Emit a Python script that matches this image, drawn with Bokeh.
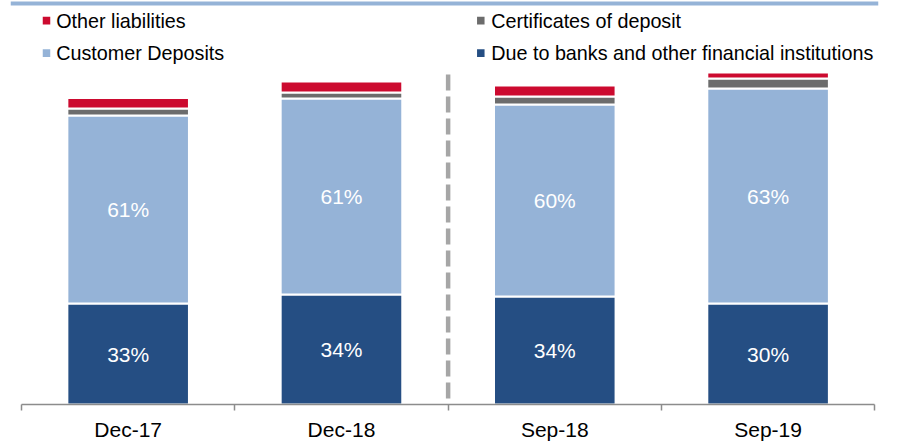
import numpy as np
from bokeh.plotting import figure
from bokeh.models import Range1d, LinearAxis, FixedTicker, ColumnDataSource
from bokeh.core.properties import value
from bokeh.embed import file_html
from bokeh.resources import INLINE

# ---- data (bar heights in chart units) ----
categories = ["Dec-17", "Dec-18", "Sep-18", "Sep-19"]
due_banks = [101, 110, 108, 101]
customer_deposits = [188, 196, 192, 215]
certificates = [7, 6, 8, 10]
other_liabilities = [10.5, 11, 11, 6]
due_banks_pct = ["33%", "34%", "34%", "30%"]
customer_pct = ["61%", "61%", "60%", "63%"]
legend_names = ["Other liabilities", "Certificates of deposit",
                "Customer Deposits", "Due to banks and other financial institutions"]

# ---- styles ----
C_DARK = "#254E83"
C_LIGHT = "#95B3D7"
C_GRAY = "#6C6C6C"
C_RED = "#CC0A2F"
FONT = value("Liberation Sans")

# ---- layout helpers (page pixel -> data) ----
OX, OY = 1, 1                      # page position of the figure's top-left
AX_LEFT, AX_RIGHT = 22.0, 875.25   # page x of axis ends (category 0 .. n)
AXIS_PAGE_Y = 405
n = len(categories)
PX = (AX_RIGHT - AX_LEFT) / n


def sx(page_x):
    return (page_x - AX_LEFT) / PX


def sy(page_y):
    return AXIS_PAGE_Y - page_y


W, H = 895, 445
FR_L, FR_R = 11, 879               # page x of frame edges
p = figure(width=W, height=H, output_backend="svg", toolbar_location=None,
           x_range=Range1d(sx(FR_L), sx(FR_R)), y_range=Range1d(0, sy(OY)),
           x_axis_type=None, y_axis_type=None,
           min_border_left=FR_L - OX, min_border_right=W - (FR_R - OX), min_border_top=0,
           min_border_bottom=H - (AXIS_PAGE_Y - OY))
p.outline_line_color = None
p.grid.visible = False

xs = np.arange(n) + 0.5
src = ColumnDataSource(dict(x=xs, dark=due_banks, light=customer_deposits,
                            gray=certificates, red=other_liabilities))
p.vbar_stack(["dark", "light", "gray", "red"], x="x", width=0.57, source=src,
             color=[C_DARK, C_LIGHT, C_GRAY, C_RED], line_color="white", line_width=2)

# percentage labels (centred in their segments)
dark = np.array(due_banks, dtype=float)
light = np.array(customer_deposits, dtype=float)
p.text(x=xs, y=dark / 2, text=due_banks_pct, text_color="white", text_font=FONT,
       text_font_size="21px", text_align="center", text_baseline="middle")
p.text(x=xs, y=dark + light / 2, text=customer_pct, text_color="white", text_font=FONT,
       text_font_size="21px", text_align="center", text_baseline="middle")

# dashed separator between Dec-18 and Sep-18
p.segment(x0=[2], y0=[sy(75)], x1=[2], y1=[0], line_color="#A6A6A6",
          line_width=4.5, line_dash="16 6")

# top rule
p.segment(x0=[sx(11)], y0=[sy(4)], x1=[sx(879)], y1=[sy(4)], line_color=C_LIGHT, line_width=4)

# x axis with ticks at category boundaries
ax = LinearAxis(ticker=FixedTicker(ticks=list(xs), minor_ticks=list(range(n + 1))),
                bounds=(0, n))
ax.major_label_overrides = {float(x): c for x, c in zip(xs, categories)}
ax.major_tick_line_color = None
ax.major_tick_in = 0
ax.major_tick_out = 0
ax.minor_tick_in = 0
ax.minor_tick_out = 6
ax.minor_tick_line_color = "#8C8C8C"
ax.minor_tick_line_width = 1.5
ax.axis_line_color = "#8C8C8C"
ax.axis_line_width = 1.5
ax.major_label_text_font = "Liberation Sans"
ax.major_label_text_font_size = "21px"
ax.major_label_text_color = "black"
ax.major_label_standoff = 7
p.add_layout(ax, "below")

# legend (manual, two columns)
leg_colors = [C_RED, C_GRAY, C_LIGHT, C_DARK]
mark_x = [sx(47), sx(481.3), sx(47), sx(481.3)]
mark_y = [sy(21.2), sy(21.2), sy(53.7), sy(53.7)]
text_x = [sx(56.7), sx(491.7), sx(56.7), sx(491.7)]
text_y = [sy(21), sy(21), sy(53.4), sy(53.4)]
p.rect(x=mark_x, y=mark_y, width=7.5, height=7.7, width_units="screen",
       height_units="screen", fill_color=leg_colors, line_color=None)
p.text(x=text_x, y=text_y, text=legend_names, text_font=FONT, text_font_size="19.75px",
       text_color="black", text_align="left", text_baseline="middle")

open("out.html", "w").write(file_html(p, INLINE))
